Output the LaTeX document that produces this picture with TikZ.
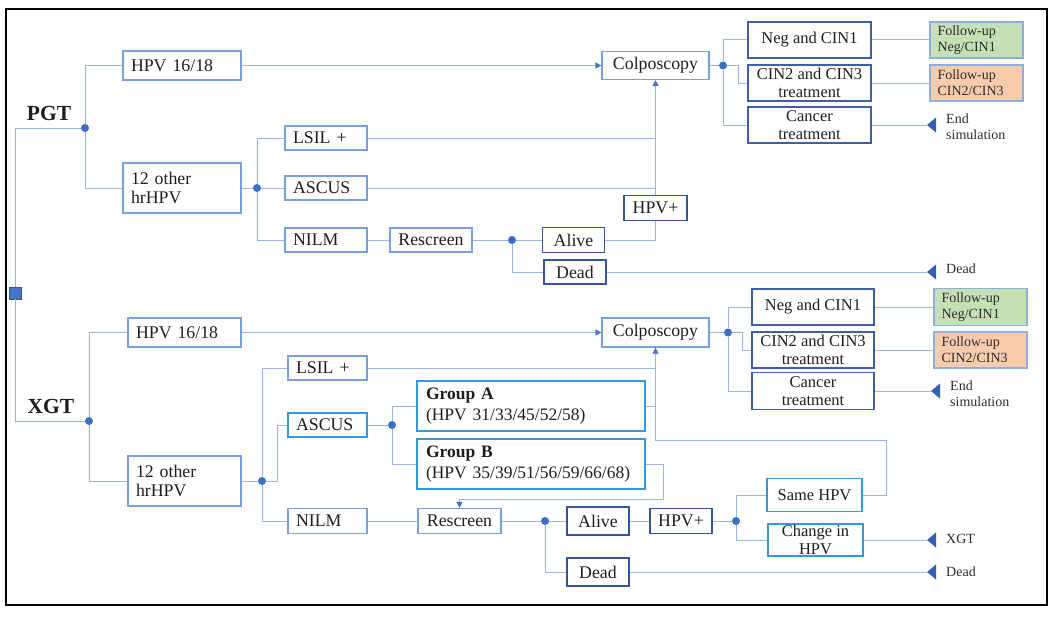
\documentclass[tikz,border=0pt]{standalone}
\usepackage{fontspec}
\setmainfont{Liberation Serif}
\usetikzlibrary{arrows.meta,calc}
\definecolor{lc}{RGB}{150,183,230}
\definecolor{bc}{RGB}{120,160,220}
\definecolor{dc}{RGB}{50,85,155}
\definecolor{nc}{RGB}{60,95,168}
\definecolor{cc}{RGB}{52,152,219}
\definecolor{fb}{RGB}{140,175,225}
\definecolor{dotc}{RGB}{60,110,200}
\definecolor{tric}{RGB}{50,95,175}
\definecolor{ac}{RGB}{68,114,196}
\definecolor{fgreen}{RGB}{197,224,180}
\definecolor{forange}{RGB}{248,203,173}
\definecolor{tc}{RGB}{30,30,30}
\definecolor{tc2}{RGB}{45,45,45}
\newcommand\fmain{\fontsize{17.8}{19}\selectfont}
\newcommand\fsec{\fontsize{16.5}{18}\selectfont}
\newcommand\fgrp{\fontsize{17.5}{21}\selectfont}
\newcommand\fsmall{\fontsize{14}{16}\selectfont}
\newcommand\ftitle{\fontsize{21.5}{23}\selectfont\bfseries}
\begin{document}
\begin{tikzpicture}[x=1pt,y=-1pt,
 conn/.style={draw=lc, line width=1pt},
 arr/.style={conn, -{Triangle[length=6pt,width=6pt,color=ac]}},
 box/.style={draw=bc, line width=1.2pt, inner sep=0pt, text=tc, font=\fmain, align=center},
 sz/.style 2 args={minimum width=#1pt, minimum height=#2pt},
 lt/.style={text width=#1pt, align=left},
 dbox/.style={box, draw=dc, line width=1.5pt},
 nbox/.style={box, draw=nc, line width=1.4pt, font=\fsec},
 cbox/.style={box, draw=cc, line width=1.3pt},
 fbox/.style={box, draw=fb, line width=1.2pt, font=\fsmall, text=tc2},
 dot/.style={circle, fill=dotc, inner sep=0pt, minimum size=8pt},
 lab/.style={font=\fsmall, text=tc2, align=left, inner sep=0pt, anchor=west},
 ttl/.style={font=\ftitle, text=tc, inner sep=0pt},
 tri/.style={fill=tric},
 sqr/.style={rectangle, fill=ac, draw=dc, line width=0.6pt, minimum size=12pt, inner sep=0pt}
]
\useasboundingbox (0,0) rectangle (1060,618);
\draw[line width=2pt, black] (6,9) rectangle (1047,605);

% ---------- root ----------
\node[sqr] (sq) at (15,293) {};
\node[ttl] (pgt) at (49,113) {PGT};
\node[ttl] (xgt) at (51,406) {XGT};
\node[dot] (dP) at (85,128) {};
\node[dot] (dX) at (89,421) {};

% ---------- PGT branch ----------
\node[box, sz={118}{29}, lt=102] (hpvA) at (182,65.5) {HPV 16/18};
\node[box, sz={118}{50}, lt=102] (othA) at (182,188) {12 other\\hrHPV};
\node[dot] (dOA) at (257,188) {};
\node[box, sz={82}{24}, lt=66] (lsilA) at (326,138) {LSIL +};
\node[box, sz={82}{24}, lt=66] (ascA) at (326,188) {ASCUS};
\node[box, sz={82}{24}, lt=66] (nilmA) at (326,240) {NILM};
\node[box, sz={82}{24}] (rescA) at (431,240) {Rescreen};
\node[dot] (dRA) at (512,240) {};
\node[dbox, sz={62}{25}] (aliveA) at (573.5,240) {Alive};
\node[dbox, sz={62}{24}] (deadA) at (575,272) {Dead};
\node[dbox, sz={63}{25}] (hpvpA) at (655.5,208) {HPV+};
\node[box, sz={107}{28}] (colA) at (655.5,65.5) {Colposcopy};
\node[dot] (dCA) at (723,65.5) {};
\node[nbox, sz={123}{36}] (negA) at (809.5,40) {Neg and CIN1};
\node[nbox, sz={123}{36}] (cinA) at (809.5,83) {CIN2 and CIN3\\treatment};
\node[nbox, sz={123}{36}] (canA) at (809.5,125) {Cancer\\treatment};
\node[fbox, fill=fgreen, sz={93}{36}, lt=78] (fuNA) at (976.5,40) {Follow-up\\Neg/CIN1};
\node[fbox, fill=forange, sz={93}{36}, lt=78] (fuCA) at (976.5,83) {Follow-up\\CIN2/CIN3};
\coordinate (tEA) at (927,125);
\coordinate (tDA) at (927,272);
\node[lab] (lEA) at (946,127) {End\\simulation};
\node[lab] (lDA) at (946,269) {Dead};

% ---------- XGT branch ----------
\node[box, sz={113}{29}, lt=97] (hpvB) at (184.5,332.5) {HPV 16/18};
\node[box, sz={113}{50}, lt=97] (othB) at (184.5,481) {12 other\\hrHPV};
\node[dot] (dOB) at (262,481) {};
\node[box, sz={79}{24}, lt=63] (lsilB) at (327.5,368) {LSIL +};
\node[cbox, sz={79}{24}, lt=63] (ascB) at (327.5,425) {ASCUS};
\node[box, sz={79}{25}, lt=63] (nilmB) at (327.5,521) {NILM};
\node[dot] (dAS) at (392,425) {};
\node[cbox, sz={228}{50}, lt=210, font=\fgrp] (grpA) at (531,406) {\textbf{Group A}\\(HPV 31/33/45/52/58)};
\node[cbox, sz={228}{50}, lt=210, font=\fgrp] (grpB) at (531,464) {\textbf{Group B}\\(HPV 35/39/51/56/59/66/68)};
\node[box, sz={83}{25}] (rescB) at (459.5,521) {Rescreen};
\node[dot] (dRB) at (545,521) {};
\node[dbox, sz={62}{28}] (aliveB) at (598,521) {Alive};
\node[dbox, sz={62}{28}] (deadB) at (598,572) {Dead};
\node[dbox, sz={62}{25}] (hpvpB) at (681,521) {HPV+};
\node[dot] (dH) at (736,521) {};
\node[cbox, sz={95}{33}, font=\fsec] (same) at (814.5,495) {Same HPV};
\node[cbox, sz={95}{32}, font=\fsec] (chg) at (815.5,540) {Change in\\HPV};
\node[box, sz={107}{29}] (colB) at (655.5,332.5) {Colposcopy};
\node[dot] (dCB) at (728,332.5) {};
\node[nbox, sz={122}{36}] (negB) at (813,307) {Neg and CIN1};
\node[nbox, sz={122}{36}] (cinB) at (813,350) {CIN2 and CIN3\\treatment};
\node[nbox, sz={122}{37}] (canB) at (813,391) {Cancer\\treatment};
\node[fbox, fill=fgreen, sz={93}{37}, lt=78] (fuNB) at (980.5,307) {Follow-up\\Neg/CIN1};
\node[fbox, fill=forange, sz={93}{36}, lt=78] (fuCB) at (980.5,350) {Follow-up\\CIN2/CIN3};
\coordinate (tEB) at (931,391);
\coordinate (tXB) at (927,540);
\coordinate (tDB) at (927,572);
\coordinate (loopB) at (886,440);
\coordinate (gbB) at (663,499);
\node[lab] (lEB) at (950,394) {End\\simulation};
\node[lab] (lXB) at (946,539) {XGT};
\node[lab] (lDB) at (946,572) {Dead};

% ---------- connectors: root ----------
\draw[conn] (sq.north) |- (dP);
\draw[conn] (sq.south) |- (dX);

% ---------- connectors: PGT ----------
\draw[conn] (dP) |- (hpvA.west);
\draw[conn] (dP) |- (othA.west);
\draw[conn] (othA.east) -- (dOA);
\draw[conn] (dOA) |- (lsilA.west);
\draw[conn] (dOA) -- (ascA.west);
\draw[conn] (dOA) |- (nilmA.west);
\draw[arr] (hpvA.east) -- (colA.west);
\draw[conn] (lsilA.east) -- (lsilA.east -| colA.south);
\draw[conn] (ascA.east) -- (ascA.east -| colA.south);
\draw[arr] (hpvpA.north) -- (colA.south);
\draw[conn] (nilmA.east) -- (rescA.west);
\draw[conn] (rescA.east) -- (dRA);
\draw[conn] (dRA) -- (aliveA.west);
\draw[conn] (dRA) |- (deadA.west);
\draw[conn] (aliveA.east) -| (hpvpA.south);
\draw[conn] (deadA.east) -- (tDA);
\draw[conn] (colA.east) -- (dCA);
\draw[conn] (dCA) |- (negA.west);
\draw[conn] (dCA) -- ++(15,0) |- (cinA.west);
\draw[conn] (dCA) |- (canA.west);
\draw[conn] (negA.east) -- (fuNA.west);
\draw[conn] (cinA.east) -- (fuCA.west);
\draw[conn] (canA.east) -- (tEA);
\fill[tri] (tEA) -- ++(9,-7.5) -- ++(0,15) -- cycle;
\fill[tri] (tDA) -- ++(9,-7.5) -- ++(0,15) -- cycle;

% ---------- connectors: XGT ----------
\draw[conn] (dX) |- (hpvB.west);
\draw[conn] (dX) |- (othB.west);
\draw[arr] (hpvB.east) -- (colB.west);
\draw[conn] (othB.east) -- (dOB);
\draw[conn] (dOB) |- (lsilB.west);
\draw[conn] (dOB) -- ++(15,0) |- (ascB.west);
\draw[conn] (dOB) |- (nilmB.west);
\draw[conn] (lsilB.east) -- (lsilB.east -| colB.south);
\draw[conn] (ascB.east) -- (dAS);
\draw[conn] (dAS) |- (grpA.west);
\draw[conn] (dAS) |- (grpB.west);
\draw[conn] (grpA.east) -- (grpA.east -| colB.south);
\draw[arr] (same.east) -| (loopB) -| (colB.south);
\draw[arr] (grpB.east) -| (gbB) -| (rescB.north);
\draw[conn] (nilmB.east) -- (rescB.west);
\draw[conn] (rescB.east) -- (dRB);
\draw[conn] (dRB) -- (aliveB.west);
\draw[conn] (dRB) |- (deadB.west);
\draw[conn] (aliveB.east) -- (hpvpB.west);
\draw[conn] (hpvpB.east) -- (dH);
\draw[conn] (dH) |- (same.west);
\draw[conn] (dH) |- (chg.west);
\draw[conn] (chg.east) -- (tXB);
\draw[conn] (deadB.east) -- (tDB);
\draw[conn] (colB.east) -- (dCB);
\draw[conn] (dCB) |- (negB.west);
\draw[conn] (dCB) -- ++(14,0) |- (cinB.west);
\draw[conn] (dCB) |- (canB.west);
\draw[conn] (negB.east) -- (fuNB.west);
\draw[conn] (cinB.east) -- (fuCB.west);
\draw[conn] (canB.east) -- (tEB);
\fill[tri] (tEB) -- ++(9,-7.5) -- ++(0,15) -- cycle;
\fill[tri] (tXB) -- ++(9,-7.5) -- ++(0,15) -- cycle;
\fill[tri] (tDB) -- ++(9,-7.5) -- ++(0,15) -- cycle;
\end{tikzpicture}
\end{document}
